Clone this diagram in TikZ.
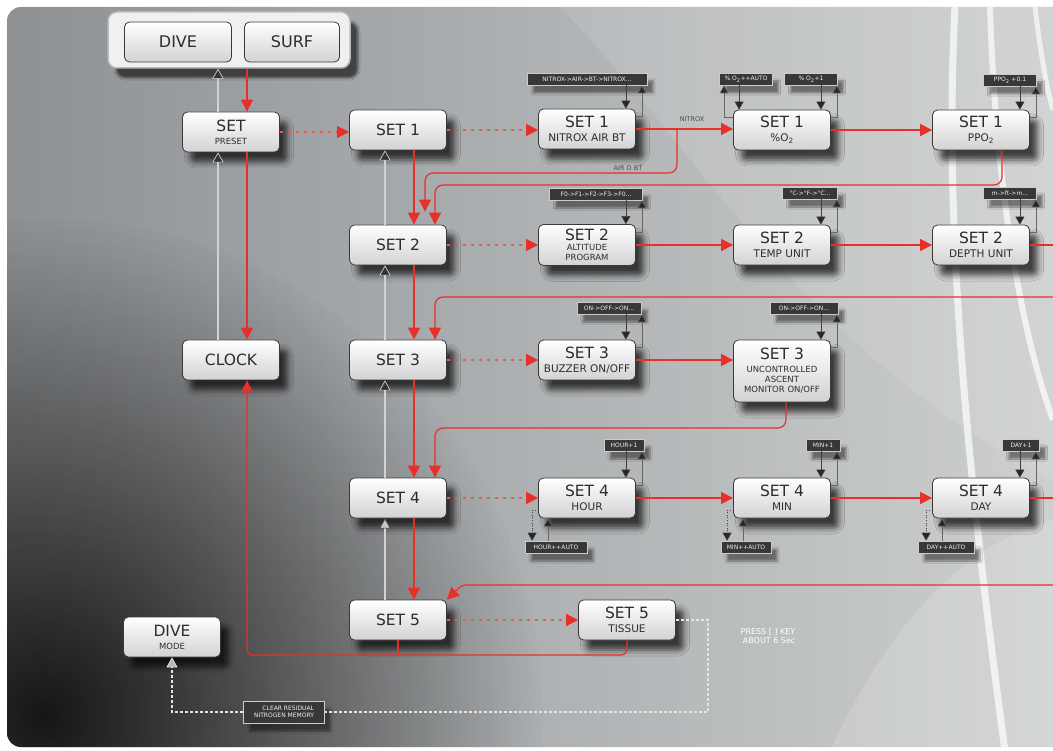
\documentclass[tikz,border=0pt]{standalone}
\usepackage{fontspec}
\setmainfont{DejaVu Sans}
\usetikzlibrary{arrows.meta, calc, shadows.blur, fadings}
\definecolor{flowred}{HTML}{E8302A}
\definecolor{dotred}{HTML}{EE5A45}
\definecolor{bgleft}{HTML}{8E9194}
\definecolor{bgright}{HTML}{CDCFD0}
\definecolor{boxtext}{HTML}{2C2D2E}
\tikzfading[name=darkglow, inner color=transparent!0, outer color=transparent!100]

\newcommand{\boxsub}[1]{{\fontsize{10.5}{11}\selectfont #1}}
\newcommand{\boxsmall}[1]{{\fontsize{8.5}{9}\selectfont #1}}

% key arrows: label above right / above left / below left of a box
\newcommand{\keysNE}[2]{%
  \coordinate (kd) at ($(#1.north east)+(-10,0)$);
  \coordinate (ku) at ($(#1.north east)+(6,0)$);
  \draw[keydown] (kd |- #2.south) -- (kd);
  \draw[keyup] ($(#1.north east)+(0,8)$) -| (ku |- #2.south);
}
\newcommand{\keysNW}[2]{%
  \coordinate (kd) at ($(#1.north west)+(6,0)$);
  \coordinate (ku) at ($(#1.north west)+(-9,0)$);
  \draw[keydown] (kd |- #2.south) -- (kd);
  \draw[keyup] ($(#1.north west)+(0,8)$) -| (ku |- #2.south);
}
\newcommand{\keysSW}[2]{%
  \coordinate (kd) at ($(#1.south west)+(-6,0)$);
  \coordinate (ku) at ($(#1.south west)+(10,0)$);
  \draw[keydown, dotted] ($(#1.south west)+(0,-8)$) -| (kd |- #2.north);
  \draw[keyup] (ku |- #2.north) -- (ku);
}

\begin{document}
\begin{tikzpicture}[x=1pt,y=-1pt,
  boxbase/.style={draw=gray!45!black, line width=0.8pt, rounded corners=5pt,
    top color=white, bottom color=gray!35, text=boxtext, align=center,
    minimum width=97pt, minimum height=40pt, inner sep=1pt,
    font=\fontsize{15.5}{16}\selectfont},
  setbox/.style={boxbase, blur shadow={shadow xshift=8pt, shadow yshift=-10pt,
    shadow opacity=70, shadow blur radius=6pt}},
  keylab/.style={fill=black!78, draw=gray!40, line width=0.6pt, text=gray!12,
    font=\fontsize{6}{7}\selectfont, inner xsep=3pt, inner ysep=1pt, minimum height=12pt,
    blur shadow={shadow xshift=6pt, shadow yshift=-8pt, shadow opacity=45}},
  redline/.style={draw=flowred, line width=1.2pt},
  redarrow/.style={redline, -{Triangle[length=12pt,width=12pt]}},
  reddots/.style={draw=dotred, line width=1.5pt, dash pattern=on 3pt off 5pt,
    -{Triangle[length=12pt,width=12pt,color=flowred,fill=flowred]}},
  backup/.style={draw=gray!35, line width=1.2pt,
    -{Triangle[length=10pt,width=11pt,fill=black!80,color=gray!25,line width=0.6pt]}},
  backopen/.style={draw=gray!35, line width=1.2pt,
    -{Triangle[length=10pt,width=11pt,fill=gray!45,color=black!70,line width=0.6pt]}},
  keydown/.style={draw=black!75, line width=0.6pt, -{Triangle[length=8pt,width=9pt,fill=black!85]}},
  keyup/.style={draw=black!60, line width=0.6pt, -{Triangle[length=8pt,width=9pt,fill=black!85]}},
  memline/.style={draw=gray!20, line width=1.2pt, dash pattern=on 3pt off 2pt},
  flowtext/.style={font=\fontsize{6.5}{7}\selectfont, text=black!70}
]
\useasboundingbox (0,0) rectangle (1053,751);

% background panel
\fill[white] (0,0) rectangle (1053,751);
\begin{scope}
  \clip[rounded corners=14pt] (7,7) rectangle (1080,747);
  \shade[left color=bgleft, right color=bgright] (0,0) rectangle (1053,751);
  \fill[white, opacity=0.1] (560,7) .. controls (700,150) and (800,350) .. (1053,480) -- (1053,7) -- cycle;
  \fill[white, opacity=0.15] (830,751) .. controls (900,600) and (980,540) .. (1053,520) -- (1053,751) -- cycle;
  \fill[black, opacity=0.85, path fading=darkglow] (45,715) circle (500);
  \draw[white, line width=7pt, opacity=0.7] (955,7) .. controls (945,200) and (960,420) .. (1005,751);
  \draw[white, line width=6pt, opacity=0.7] (990,7) .. controls (995,180) and (1020,330) .. (1053,420);
  \draw[white, line width=5pt, opacity=0.65] (1035,7) .. controls (1040,50) and (1047,90) .. (1053,110);
\end{scope}

% mode selector
\node[draw=gray!55, line width=1.5pt, rounded corners=9pt, fill=gray!12,
  minimum width=242pt, minimum height=56pt,
  blur shadow={shadow xshift=8pt, shadow yshift=-10pt, shadow opacity=60}] (modes) at (229,40) {};
\node[boxbase, minimum width=107pt, font=\fontsize{16}{17}\selectfont] (dive) at (178,42) {DIVE};
\node[boxbase, minimum width=95pt, font=\fontsize{16}{17}\selectfont] (surf) at (292,42) {SURF};

% boxes
\node[setbox] (preset) at (231,132) {SET\\[-3pt]\boxsmall{PRESET}};
\node[setbox] (clock) at (231,360) {CLOCK};
\node[setbox] (s1) at (398,130) {SET 1};
\node[setbox] (s2) at (398,245) {SET 2};
\node[setbox] (s3) at (398,360) {SET 3};
\node[setbox] (s4) at (398,498) {SET 4};
\node[setbox] (s5) at (398,620) {SET 5};
\node[setbox] (s1a) at (587,129) {SET 1\\[-2pt]\boxsub{NITROX AIR BT}};
\node[setbox] (s1b) at (782,130) {SET 1\\[-2pt]\boxsub{\%O\textsubscript{2}}};
\node[setbox] (s1c) at (981,130) {SET 1\\[-2pt]\boxsub{PPO\textsubscript{2}}};
\node[setbox, minimum height=41pt] (s2a) at (587,245) {SET 2\\[-6pt]\boxsmall{ALTITUDE}\\[-6pt]\boxsmall{PROGRAM}};
\node[setbox] (s2b) at (782,245) {SET 2\\[-2pt]\boxsub{TEMP UNIT}};
\node[setbox] (s2c) at (981,245) {SET 2\\[-2pt]\boxsub{DEPTH UNIT}};
\node[setbox] (s3a) at (587,360) {SET 3\\[-2pt]\boxsub{BUZZER ON/OFF}};
\node[setbox, minimum height=62pt] (s3b) at (782,371) {SET 3\\[-3pt]\boxsmall{UNCONTROLLED}\\[-6pt]\boxsmall{ASCENT}\\[-6pt]\boxsmall{MONITOR ON/OFF}};
\node[setbox] (s4a) at (587,498) {SET 4\\[-2pt]\boxsub{HOUR}};
\node[setbox] (s4b) at (782,498) {SET 4\\[-2pt]\boxsub{MIN}};
\node[setbox] (s4c) at (981,498) {SET 4\\[-2pt]\boxsub{DAY}};
\node[setbox] (s5a) at (627,620) {SET 5\\[-2pt]\boxsub{TISSUE}};
\node[setbox] (divemode) at (172,637) {DIVE\\[-3pt]\boxsmall{MODE}};
\node[keylab, align=right, minimum width=81pt, minimum height=22pt] (clear) at (284,712) {CLEAR RESIDUAL\\NITROGEN MEMORY};

% key labels
\node[keylab, minimum width=120pt] (k1a) at (587,79) {NITROX->AIR->BT->NITROX...};
\node[keylab, minimum width=53pt] (k1b) at (746,79) {\% O\textsubscript{2}++AUTO};
\node[keylab, minimum width=53pt] (k1bb) at (811,79) {\% O\textsubscript{2}+1};
\node[keylab, minimum width=53pt] (k1c) at (1010,80) {PPO\textsubscript{2} +0.1};
\node[keylab, minimum width=93pt] (k2a) at (596,194) {F0->F1->F2->F3->F0...};
\node[keylab, minimum width=55pt] (k2b) at (810,193) {°C->°F->°C...};
\node[keylab, minimum width=53pt] (k2c) at (1010,193) {m->ft->m...};
\node[keylab, minimum width=64pt] (k3a) at (609,308) {ON->OFF->ON...};
\node[keylab, minimum width=68pt] (k3b) at (804,308) {ON->OFF->ON...};
\node[keylab, minimum width=40pt] (k4a) at (624,445) {HOUR+1};
\node[keylab, minimum width=34pt] (k4b) at (823,445) {MIN+1};
\node[keylab, minimum width=37pt] (k4c) at (1021,445) {DAY+1};
\node[keylab, minimum width=62pt] (k4aa) at (556,547) {HOUR++AUTO};
\node[keylab, minimum width=50pt] (k4bb) at (746,547) {MIN++AUTO};
\node[keylab, minimum width=56pt] (k4cc) at (946,547) {DAY++AUTO};

% texts
\node[flowtext] (tnitrox) at (692,119) {NITROX};
\node[flowtext] (tairbt) at (628,168) {AIR O BT};
\node[align=right, font=\fontsize{8}{9}\selectfont, text=white] (press) at (768,636) {PRESS [ ] KEY\\ABOUT 6 Sec};

% helper coordinates
\coordinate (lvA) at (677,173);
\coordinate (lvB) at (0,185);
\coordinate (lvC) at (1053,297);
\coordinate (lvD) at (0,428);
\coordinate (lvE) at (1053,585);
\coordinate (lvF) at (0,655);
\coordinate (lvG) at (708,712);
\coordinate (edgeR) at (1053,0);

% main column
\coordinate (pr) at ($(preset.north)+(16,0)$);
\coordinate (pg) at ($(preset.north)+(-13,0)$);
\draw[redarrow] (pr |- modes.south) -- (pr);
\draw[backup] (pg) -- (pg |- modes.south);
\draw[redarrow] ($(preset.south)+(16,0)$) -- ($(clock.north)+(16,0)$);
\draw[backup] ($(clock.north)+(-13,0)$) -- ($(preset.south)+(-13,0)$);
\foreach \a/\b/\st in {s1/s2/backup, s2/s3/backup, s3/s4/backup, s4/s5/backopen} {
  \draw[redarrow] ($(\a.south)+(16,0)$) -- ($(\b.north)+(16,0)$);
  \draw[\st] ($(\b.north)+(-13,0)$) -- ($(\a.south)+(-13,0)$);
}

% into the sub menus
\foreach \a/\b in {preset/s1, s1/s1a, s2/s2a, s3/s3a, s4/s4a, s5/s5a}
  \draw[reddots] (\a.east) -- (\a.east -| \b.west);
\foreach \a/\b in {s1a/s1b, s1b/s1c, s2a/s2b, s2b/s2c, s3a/s3b, s4a/s4b, s4b/s4c}
  \draw[redarrow] (\a.east) -- (\a.east -| \b.west);
\draw[redline] (s2c.east) -- (s2c.east -| edgeR);
\draw[redline] (s4c.east) -- (s4c.east -| edgeR);

% returns
\coordinate (s2in2) at ($(s2.north)+(27,0)$);
\coordinate (s2up) at ($(s2.north)+(27,-13)$);
\coordinate (s2in3) at ($(s2.north)+(37,0)$);
\coordinate (s3in3) at ($(s3.north)+(37,0)$);
\coordinate (s4in3) at ($(s4.north)+(37,0)$);
\coordinate (ppdn) at ($(s1c.south)+(21,0)$);
\coordinate (uadn) at ($(s3b.south)+(4,0)$);
\coordinate (s5bend) at (462,585);
\coordinate (ckup) at ($(clock.south)+(16,0)$);
\draw[redarrow, rounded corners=8pt] (s1a.east -| lvA) -- (lvA) -- (s2in2 |- lvA) -- (s2up);
\draw[redarrow, rounded corners=8pt] (ppdn) -- (ppdn |- lvB) -- (s2in3 |- lvB) -- (s2in3);
\draw[redarrow, rounded corners=8pt] (lvC) -- (s3in3 |- lvC) -- (s3in3);
\draw[redarrow, rounded corners=8pt] (uadn) -- (uadn |- lvD) -- (s4in3 |- lvD) -- (s4in3);
\draw[redarrow, rounded corners=4pt] (lvE) -- (s5bend) -- (s5.north east);
\draw[redarrow, rounded corners=6pt] (s5a.south) -- (s5a.south |- lvF) -- (ckup |- lvF) -- (ckup);
\draw[redline] (s5.south) -- (s5.south |- lvF);

% clear nitrogen memory
\draw[memline] (s5a.east) -| (lvG) -- (clear.east);
\draw[memline, -{Triangle[length=10pt,width=11pt,fill=gray!55,color=gray!15,line width=0.6pt]}]
  (clear.west) -| (divemode.south);

% key arrows
\keysNE{s1a}{k1a}
\keysNW{s1b}{k1b}
\keysNE{s1b}{k1bb}
\keysNE{s1c}{k1c}
\keysNE{s2a}{k2a}
\keysNE{s2b}{k2b}
\keysNE{s2c}{k2c}
\keysNE{s3a}{k3a}
\keysNE{s3b}{k3b}
\keysNE{s4a}{k4a}
\keysNE{s4b}{k4b}
\keysNE{s4c}{k4c}
\keysSW{s4a}{k4aa}
\keysSW{s4b}{k4bb}
\keysSW{s4c}{k4cc}
\end{tikzpicture}
\end{document}
